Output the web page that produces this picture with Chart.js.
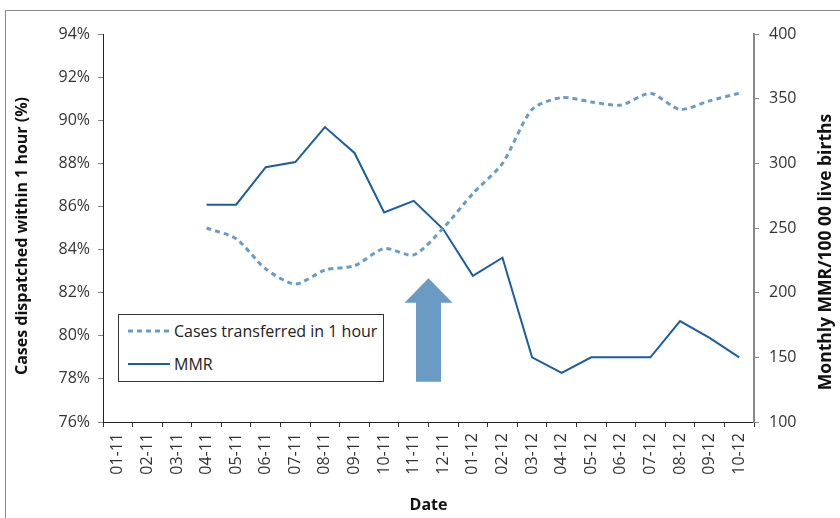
<!DOCTYPE html>
<html>
<head>
<meta charset="utf-8">
<script src="https://cdn.jsdelivr.net/npm/chart.js@4.4.1/dist/chart.umd.min.js"></script>
<style>
  html, body { margin: 0; padding: 0; background: #fff; }
  #wrap { position: relative; width: 840px; height: 518px; overflow: hidden; }
  #frame { position: absolute; left: 5px; top: 10px; width: 900px; height: 600px;
           border-left: 1px solid #8a8a8a; border-top: 1px solid #8a8a8a; pointer-events: none; }
  canvas { position: absolute; left: 0; top: 0; }
  #legend { position: absolute; left: 118px; top: 314px; width: 266px; height: 68px;
            border: 1px solid #333; background: #fff; box-sizing: border-box;
            font-family: "Open Sans", sans-serif; font-size: 16px; color: #222; }
  .row { position: absolute; left: 9px; height: 20px; display: flex; align-items: center; white-space: nowrap; }
  .row svg { margin-right: 4px; }
</style>
</head>
<body>
<div id="wrap">
  <canvas id="c" width="840" height="518"></canvas>
  <div id="frame"></div>
  <div id="legend">
    <div class="row" style="top:6px">
      <svg width="42" height="6"><line x1="0" y1="3" x2="42" y2="3" stroke="#6a9bc6" stroke-width="3" stroke-dasharray="5,4"/></svg>
      <span>Cases transferred in 1 hour</span>
    </div>
    <div class="row" style="top:39px">
      <svg width="42" height="6"><line x1="0" y1="3" x2="42" y2="3" stroke="#1b5e9e" stroke-width="2"/></svg>
      <span>MMR</span>
    </div>
  </div>
</div>
<script>
const categories = ["01-11","02-11","03-11","04-11","05-11","06-11","07-11","08-11","09-11","10-11","11-11","12-11",
                    "01-12","02-12","03-12","04-12","05-12","06-12","07-12","08-12","09-12","10-12"];
const casesTransferred = [null,null,null,85.0,84.5,83.1,82.4,83.05,83.25,84.05,83.75,85.0,
                          86.6,88.0,90.5,91.05,90.85,90.7,91.25,90.5,90.9,91.25];
const mmr = [null,null,null,268,268,297,301,328,308,262,271,249,
             213,227,150,138,150,150,150,178,165,150];
const leftTicks = [76,78,80,82,84,86,88,90,92,94];
const rightTicks = [100,150,200,250,300,350,400];
const leftTitle = 'Cases dispatched within 1 hour (%)';
const rightTitle = 'Monthly MMR/100 00 live births';

const FONT = "'Open Sans', sans-serif";

const arrowPlugin = {
  id: 'arrow',
  afterDatasetsDraw(chart, args, opts) {
    const x = chart.scales.x, y = chart.scales.y;
    const cx = (x.getPixelForValue(opts.between[0]) + x.getPixelForValue(opts.between[1])) / 2;
    const tip = y.getPixelForValue(opts.tip), base = y.getPixelForValue(opts.headBase), bot = y.getPixelForValue(opts.bottom);
    const ctx = chart.ctx;
    ctx.save();
    ctx.fillStyle = opts.color;
    ctx.beginPath();
    ctx.moveTo(cx, tip);
    ctx.lineTo(cx + opts.headHalf, base);
    ctx.lineTo(cx + opts.shaftHalf, base);
    ctx.lineTo(cx + opts.shaftHalf, bot);
    ctx.lineTo(cx - opts.shaftHalf, bot);
    ctx.lineTo(cx - opts.shaftHalf, base);
    ctx.lineTo(cx - opts.headHalf, base);
    ctx.closePath();
    ctx.fill();
    ctx.restore();
  }
};

// vertical axis titles, both reading bottom-to-top
const axisTitlePlugin = {
  id: 'axisTitles',
  afterDraw(chart, args, opts) {
    const ctx = chart.ctx;
    ctx.save();
    ctx.fillStyle = '#111';
    ctx.textAlign = 'center';
    ctx.textBaseline = 'middle';
    for (const t of opts.items) {
      ctx.font = 'bold ' + t.size + 'px ' + FONT;
      ctx.save();
      ctx.translate(t.x, t.y);
      ctx.rotate(-Math.PI / 2);
      ctx.fillText(t.text, 0, 0);
      ctx.restore();
    }
    ctx.restore();
  }
};

new Chart(document.getElementById('c'), {
  type: 'line',
  data: {
    labels: categories,
    datasets: [
      { label: 'Cases transferred in 1 hour', data: casesTransferred, yAxisID: 'y',
        borderColor: '#6a9bc6', borderWidth: 3, borderDash: [5,4], pointRadius: 0, tension: 0.25, fill: false },
      { label: 'MMR', data: mmr, yAxisID: 'y1',
        borderColor: '#1b5e9e', borderWidth: 2, pointRadius: 0, tension: 0, fill: false }
    ]
  },
  options: {
    responsive: false,
    animation: false,
    events: [],
    layout: { padding: { top: 34, left: 0, right: 0, bottom: 0 } },
    plugins: {
      legend: { display: false },
      tooltip: { enabled: false },
      arrow: { between: [10, 11], tip: 82.67, headBase: 81.53, bottom: 77.87, headHalf: 24, shaftHalf: 12.5, color: '#6a9bc4' },
      axisTitles: { items: [
        { text: leftTitle, x: 22, y: 236, size: 16 },
        { text: rightTitle, x: 826, y: 252, size: 17.5 }
      ] }
    },
    scales: {
      x: {
        offset: true,
        grid: { display: true, offset: true, drawOnChartArea: false, tickLength: 5, tickColor: '#333', color: '#333' },
        border: { display: true, color: '#222', width: 1 },
        ticks: { autoSkip: false, maxRotation: 90, minRotation: 90, padding: 6, color: '#333', font: { family: FONT, size: 16 } },
        title: { display: true, text: 'Date', color: '#111', padding: { top: 0, bottom: 3 }, font: { family: FONT, size: 16, weight: 'bold' } },
        afterFit(s) { s.height = 96; }
      },
      y: {
        position: 'left', min: 76, max: 94,
        afterBuildTicks(s) { s.ticks = leftTicks.map(v => ({ value: v })); },
        grid: { display: true, drawOnChartArea: false, tickLength: 5, tickColor: '#888' },
        border: { display: true, color: '#222', width: 1 },
        ticks: { padding: 8, color: '#333', font: { family: FONT, size: 16 }, callback: v => v + '%' },
        title: { display: false },
        afterFit(s) { s.width = 103; }
      },
      y1: {
        position: 'right', min: 100, max: 400,
        afterBuildTicks(s) { s.ticks = rightTicks.map(v => ({ value: v })); },
        grid: { display: true, drawOnChartArea: false, tickLength: 5, tickColor: '#888' },
        border: { display: true, color: '#888', width: 2 },
        ticks: { padding: 10, color: '#333', font: { family: FONT, size: 16 } },
        title: { display: false },
        afterFit(s) { s.width = 86; }
      }
    }
  },
  plugins: [arrowPlugin, axisTitlePlugin]
});
</script>
</body>
</html>
